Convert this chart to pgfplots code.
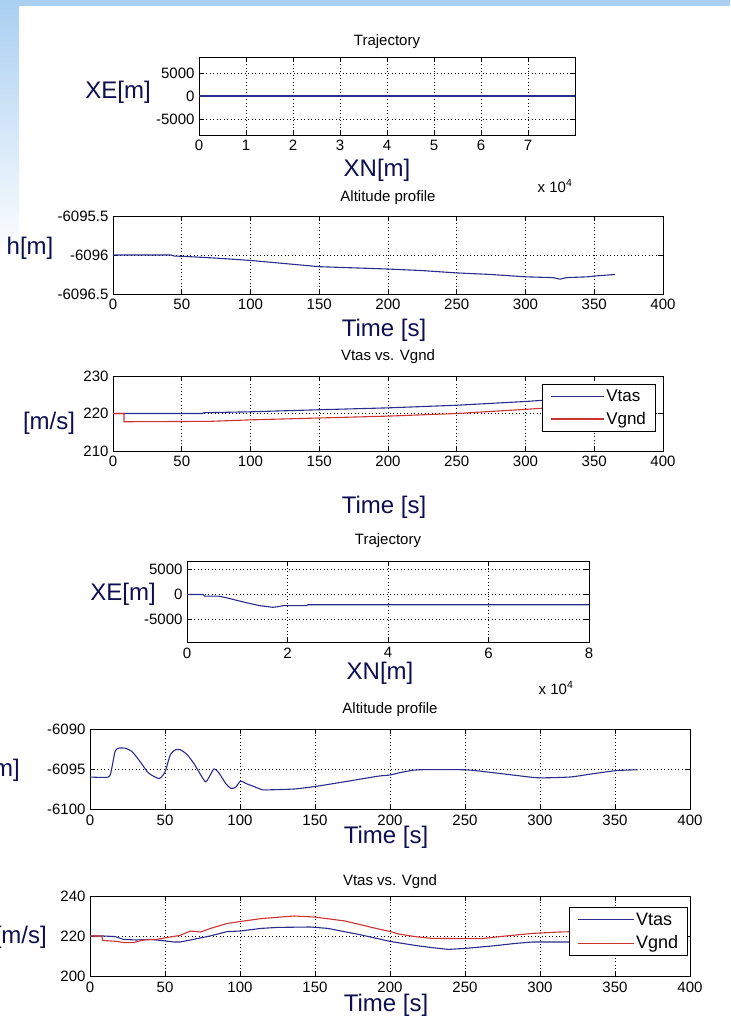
\documentclass[border=0pt]{standalone}
\usepackage{fontspec}
\setmainfont{Liberation Sans}
\usepackage{pgfplots}
\pgfplotsset{compat=1.18}
\definecolor{labnavy}{HTML}{0E0E52}
\definecolor{mblue}{HTML}{2C2C8C}
\definecolor{mred}{HTML}{CC3333}
\definecolor{slideblue}{HTML}{A9CFF1}
\newcommand\tf{\fontsize{15}{17}\selectfont}
\newcommand\blab{\fontsize{24}{26}\selectfont\color{labnavy}}
\pgfplotsset{
  mat/.style={scale only axis, axis line style={black, line width=0.8pt},
    tick align=inside, tick pos=both, major tick length=5pt,
    tick style={black, line width=0.6pt},
    grid=major, major grid style={black, line width=0.8pt, dash pattern=on 0.9pt off 2.6pt},
    ticklabel style={font=\tf}, xticklabel style={yshift=-2pt},
    yticklabel style={xshift=-1pt},
    scaled ticks=false},
  leg/.style={legend style={draw=black, fill=white, line width=0.8pt,
      nodes={inner sep=1.5pt}, inner xsep=8pt, inner ysep=4pt, row sep=6pt,
      cells={anchor=west}}},
  bl/.style={mblue, line width=1.1pt},
  rd/.style={mred, line width=1.1pt},
}
\begin{document}
\begin{tikzpicture}
\useasboundingbox (0,0) rectangle (730pt,1024pt);
\begin{scope}
\clip (0,0) rectangle (730pt,1024pt);
\fill[white] (0,0) rectangle (730pt,1024pt);
\shade[top color=slideblue, bottom color=white] (0pt,764pt) rectangle (19pt,1024pt);
\fill[slideblue] (0pt,1018pt) rectangle (730pt,1024pt);

% ---- plot 1: Trajectory
\begin{axis}[mat, at={(199pt,889pt)}, anchor=south west, width=376pt, height=78pt,
  xmin=0, xmax=80000, ymin=-8500, ymax=8500,
  xtick={0,10000,20000,30000,40000,50000,60000,70000}, xticklabels={0,1,2,3,4,5,6,7},
  ytick={-5000,0,5000}, yticklabels={-5000,0,5000}]
\addplot[bl] coordinates {(0,0) (80000,0)};
\end{axis}

% ---- plot 2: Altitude profile
\begin{axis}[mat, at={(113pt,730pt)}, anchor=south west, width=550pt, height=78pt,
  xmin=0, xmax=400, ymin=-6096.5, ymax=-6095.5,
  xtick={0,50,...,400}, xticklabels={0,50,100,150,200,250,300,350,400},
  ytick={-6096.5,-6096,-6095.5}, yticklabels={-6096.5,-6096,-6095.5}]
\addplot[bl] coordinates {(0,-6096) (42,-6096) (45,-6096.015) (50,-6096.016) (75,-6096.04)
  (100,-6096.07) (125,-6096.11) (150,-6096.15) (175,-6096.165) (200,-6096.18) (225,-6096.2)
  (250,-6096.23) (275,-6096.25) (300,-6096.28) (320,-6096.29) (325,-6096.31) (330,-6096.29)
  (345,-6096.28) (350,-6096.27) (365,-6096.25)};
\end{axis}

% ---- plot 3: Vtas vs Vgnd
\begin{axis}[mat, leg, at={(113pt,573pt)}, anchor=south west, width=550pt, height=75pt,
  xmin=0, xmax=400, ymin=210, ymax=230,
  xtick={0,50,...,400}, xticklabels={0,50,100,150,200,250,300,350,400},
  ytick={210,220,230}, yticklabels={210,220,230},
  legend image post style={xscale=3.1},
  legend style={at={(0.987,0.893)}, anchor=north east, font=\fontsize{17}{19}\selectfont}]
\addplot[bl] coordinates {(0,220) (65,220) (66,220.2) (100,220.45) (150,221) (200,221.5)
  (250,222.2) (300,223.2) (320,223.7) (365,224.5)};
\addlegendentry{Vtas}
\addplot[rd] coordinates {(0,220) (8,220) (8,217.8) (70,217.9) (100,218.3) (130,218.6)
  (150,218.8) (200,219.3) (250,220) (300,221.1) (320,221.6) (365,222.5)};
\addlegendentry{Vgnd}
\end{axis}

% ---- plot 4: Trajectory
\begin{axis}[mat, at={(187pt,382pt)}, anchor=south west, width=402pt, height=81pt,
  xmin=0, xmax=80000, ymin=-9500, ymax=6700,
  xtick={0,20000,40000,60000,80000}, xticklabels={0,2,4,6,8},
  ytick={-5000,0,5000}, yticklabels={-5000,0,5000}]
\addplot[bl] coordinates {(0,0) (3200,0) (3500,-320) (6200,-320) (7800,-640) (9800,-1150)
  (12500,-1800) (14500,-2240) (17100,-2560) (18100,-2440) (19100,-2240) (23700,-2240)
  (24100,-2050) (80000,-2050)};
\end{axis}

% ---- plot 5: Altitude profile
\begin{axis}[mat, at={(90pt,215pt)}, anchor=south west, width=600pt, height=80pt,
  xmin=0, xmax=400, ymin=-6100, ymax=-6090,
  xtick={0,50,...,400}, xticklabels={0,50,100,150,200,250,300,350,400},
  ytick={-6100,-6095,-6090}, yticklabels={-6100,-6095,-6090}]
\addplot[bl, smooth, tension=0.4] coordinates {(0,-6096) (12.3,-6096) (14.5,-6094.9) (16.7,-6092.8)
  (19,-6092.4) (23.4,-6092.4) (27.9,-6092.8) (33.5,-6094.1) (39,-6095.5) (45.8,-6096.2)
  (48,-6095.9) (50.2,-6095.3) (53.6,-6093.2) (57,-6092.6) (60.3,-6092.6) (64.7,-6093.2)
  (69.2,-6094.3) (73.7,-6095.7) (77,-6096.6) (79.2,-6096.1) (82.6,-6095.0) (86,-6095.5)
  (90.4,-6096.8) (93.8,-6097.4) (97,-6097.3) (100.4,-6096.5) (103.8,-6096.8) (109.4,-6097.2)
  (115,-6097.6) (120.5,-6097.6) (136,-6097.5) (149.6,-6097.2) (169.6,-6096.6) (192,-6095.9)
  (200,-6095.75) (208,-6095.4) (219,-6095.1) (250,-6095.1) (266,-6095.4) (284,-6095.8)
  (299,-6096.1) (320,-6096.0) (335,-6095.6) (351,-6095.2) (365,-6095.1)};
\end{axis}

% ---- plot 6: Vtas vs Vgnd
\begin{axis}[mat, leg, at={(90pt,48pt)}, anchor=south west, width=600pt, height=80pt,
  xmin=0, xmax=400, ymin=200, ymax=240,
  xtick={0,50,...,400}, xticklabels={0,50,100,150,200,250,300,350,400},
  ytick={200,220,240}, yticklabels={200,220,240},
  legend image post style={xscale=3.28},
  legend style={at={(0.9967,0.8625)}, anchor=north east, font=\fontsize{18}{20}\selectfont}]
\addplot[bl] coordinates {(0,220) (9,220) (16.7,219.7) (22.3,218.3) (31,218) (40,218.3)
  (47,217.8) (56,217) (60,217) (69,218.3) (80,220) (91.5,222.2) (100.4,222.5) (114,223.8)
  (125,224.3) (147,224.5) (158.5,223.8) (181,220.5) (200,217.3) (216.7,215.3) (227.9,214.2)
  (239,213.3) (250,213.8) (268,215) (283.7,216.3) (295,217) (313,217) (340,217) (365,217)};
\addlegendentry{Vtas}
\addplot[rd] coordinates {(0,220) (7.8,220) (8.5,217.8) (17.9,217.3) (22.3,216.7) (29,216.7)
  (35.7,218) (44.6,218.3) (51,219.2) (60,220.3) (67,222.5) (73.7,222) (80,223.7) (91.5,226.3)
  (102.7,227.5) (114,228.7) (136,230) (149.6,229.5) (170,227.5) (194,223.2) (200,222.3)
  (205.6,221) (216.7,219.7) (227.9,218.8) (250,218.7) (261,218.7) (277,220) (295,221.3)
  (313,222) (340,222.5) (365,223)};
\addlegendentry{Vgnd}
\end{axis}

% ---- titles
\node[font=\tf] at (387pt,982pt) {Trajectory};
\node[font=\tf] at (388pt,826pt) {Altitude profile};
\node[font=\tf] at (388pt,667pt) {Vtas vs. Vgnd};
\node[font=\tf] at (388pt,483pt) {Trajectory};
\node[font=\tf] at (390pt,314pt) {Altitude profile};
\node[font=\tf] at (390pt,142pt) {Vtas vs. Vgnd};
% ---- scale factors
\node[font=\tf, inner sep=0pt] at (555pt,838pt) {x 10$^{\mathrm{4}}$};
\node[font=\tf, inner sep=0pt] at (556pt,336pt) {x 10$^{\mathrm{4}}$};
% ---- big axis labels
\node[font=\blab] at (118pt,932pt) {XE[m]};
\node[font=\blab] at (377pt,854pt) {XN[m]};
\node[font=\blab] at (30pt,776pt) {h[m]};
\node[font=\blab] at (384pt,694pt) {Time [s]};
\node[font=\blab] at (49pt,601pt) {[m/s]};
\node[font=\blab] at (384pt,517pt) {Time [s]};
\node[font=\blab] at (123pt,430pt) {XE[m]};
\node[font=\blab] at (380pt,351pt) {XN[m]};
\node[font=\blab, anchor=east, inner sep=0pt] at (20pt,254pt) {h[m]};
\node[font=\blab] at (386pt,187pt) {Time [s]};
\node[font=\blab, anchor=east, inner sep=0pt] at (47pt,87pt) {[m/s]};
\node[font=\blab] at (386pt,19pt) {Time [s]};
\end{scope}
\end{tikzpicture}
\end{document}
